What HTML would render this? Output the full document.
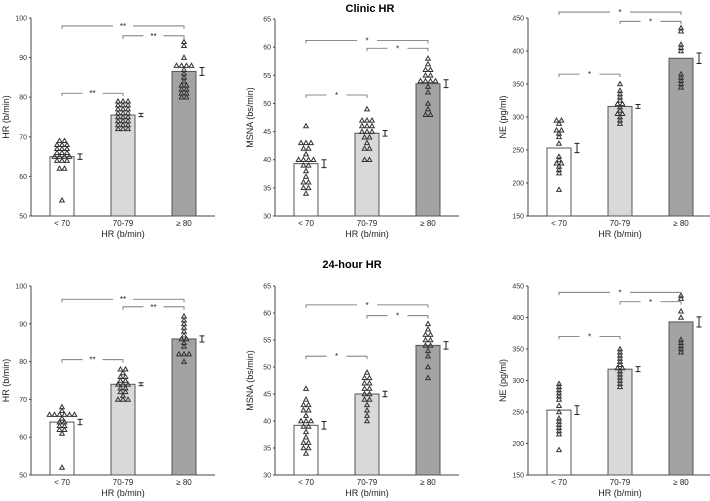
<!DOCTYPE html>
<html><head><meta charset="utf-8"><style>
body{margin:0;background:#fff;}
svg{display:block;font-family:"Liberation Sans",Arial,sans-serif;}
</style></head><body>
<svg id="fig" width="710" height="501">
<text x="370" y="12" text-anchor="middle" font-size="11" font-weight="bold">Clinic HR</text>
<text x="352" y="268" text-anchor="middle" font-size="11" font-weight="bold">24-hour HR</text>
</svg>
<script>
const categories = ["< 70","70-79","≥ 80"];
const p1Vals = [[54,62,62,64,64,64,65,65,65,65,66,66,66,67,67,67,68,68,68,69,69],[72,72,72,73,73,73,74,74,74,75,75,75,76,76,76,77,77,77,78,78,78,79,79,79],[80,80,81,81,82,82,83,83,84,85,86,87,88,88,88,88,90,93,94]];
const p1Means = [65,75.5,86.5];
const p1Sems = [0.7,0.4,1.0];
const p2Vals = [[34,35,35,36,36,37,38,39,39,40,40,40,40,41,42,42,43,43,43,46],[40,40,42,42,43,44,44,45,45,45,46,46,46,47,47,47,49],[48,48,49,50,52,53,54,54,54,54,55,55,56,56,57,58]];
const p2Means = [39.3,44.7,53.5];
const p2Sems = [0.7,0.5,0.7];
const p3Vals = [[190,215,220,225,230,230,235,240,260,270,275,280,280,290,295,295],[290,295,300,305,305,310,315,320,320,325,330,335,340,350],[345,350,355,360,365,400,405,410,430,435]];
const p3Means = [253,316,389];
const p3Sems = [7,3,8];
const p4Vals = [[52,61,62,62,63,63,64,64,65,66,66,66,66,66,66,67,68],[70,70,70,71,72,72,73,73,74,74,74,75,75,76,76,77,78,78],[80,82,82,82,84,85,86,86,87,88,89,90,91,92]];
const p4Means = [64,74,86];
const p4Sems = [0.7,0.4,0.8];
const p5Vals = [[34,35,35,36,36,37,38,39,39,40,40,40,41,42,42,43,43,44,46],[40,41,42,43,44,44,45,45,46,46,47,47,48,48,49],[48,50,52,53,54,54,55,55,56,56,57,58]];
const p5Means = [39.2,45,54];
const p5Sems = [0.7,0.5,0.7];
const p6Vals = [[190,215,220,225,230,235,240,250,260,270,275,280,285,290,295],[290,295,300,305,310,315,320,320,325,330,335,340,345,350],[345,350,355,360,365,400,410,430,435]];
const p6Means = [253,318,393];
const p6Sems = [7,4,8];
const hrTicks=[50,60,70,80,90,100], msnaTicks=[30,35,40,45,50,55,60,65], neTicks=[150,200,250,300,350,400,450];

const NS="http://www.w3.org/2000/svg";
const svg=document.getElementById('fig');
function mk(tag,attrs,parent){const e=document.createElementNS(NS,tag);for(const k in attrs)e.setAttribute(k,attrs[k]);(parent||svg).appendChild(e);return e;}

function panel(cfg){
  const g=mk('g',{});
  
  
  const y=v=>cfg.yb-(v-cfg.min)/(cfg.max-cfg.min)*(cfg.yb-cfg.yt);
  const barX=[cfg.ax+19,cfg.ax+80,cfg.ax+141], bw=24;
  const ya=mk('line',{x1:cfg.ax,x2:cfg.ax,y1:cfg.yt,y2:cfg.yb,stroke:'#444','stroke-width':1},g);
  
  const xa=mk('line',{x1:cfg.ax,x2:cfg.ax+184,y1:cfg.yb,y2:cfg.yb,stroke:'#444','stroke-width':1},g);
  
  cfg.ticks.forEach(t=>{
    mk('line',{x1:cfg.ax-2,x2:cfg.ax,y1:y(t),y2:y(t),stroke:'#444'},g);
    const tx=mk('text',{x:cfg.ax-4,y:y(t)+2.5,'text-anchor':'end','font-size':7,fill:'#333'},g);
    tx.textContent=t;
    
  });
  const yl=mk('text',{x:0,y:0,'text-anchor':'middle','font-size':9,fill:'#222',transform:`translate(${cfg.ax-22},${(cfg.yt+cfg.yb)/2}) rotate(-90)`},g);
  yl.textContent=cfg.ylabel;
  const xl=mk('text',{x:barX[1]+bw/2,y:cfg.yb+21,'text-anchor':'middle','font-size':9,fill:'#222'},g);
  xl.textContent='HR (b/min)';
  const fills=['#ffffff','#d9d9d9','#a3a3a3'];
  categories.forEach((c,i)=>{
    const b=mk('rect',{x:barX[i],y:y(cfg.means[i]),width:bw,height:cfg.yb-y(cfg.means[i]),fill:fills[i],stroke:'#555','stroke-width':1},g);
    
    const cl=mk('text',{x:barX[i]+bw/2,y:cfg.yb+10,'text-anchor':'middle','font-size':8,fill:'#222'},g);
    cl.textContent=c;
    const ex=barX[i]+bw+6, hi=y(cfg.means[i]+cfg.sems[i]), lo=y(cfg.means[i]-cfg.sems[i]);
    const eb=mk('path',{d:`M${ex},${hi}V${lo}M${ex-2.5},${hi}H${ex+2.5}M${ex-2.5},${lo}H${ex+2.5}`,stroke:'#222',fill:'none','stroke-width':1},g);
    
    const counts={};
    cfg.vals[i].forEach(v=>counts[v]=(counts[v]||0)+1);
    const seen={};
    cfg.vals[i].forEach(v=>{
      const n=counts[v], k=(seen[v]=(seen[v]||0)+1)-1;
      const cx=barX[i]+bw/2+(k-(n-1)/2)*5, cy=y(v);
      const tr=mk('path',{d:`M${cx},${cy-2.3}L${cx+2.3},${cy+1.8}L${cx-2.3},${cy+1.8}Z`,fill:'none',stroke:'#333','stroke-width':1},g);
      
    });
  });
  const br=(a,b,v,lab)=>{
    const x1=barX[a]+bw/2,x2=barX[b]+bw/2,yy=y(v),m=(x1+x2)/2;
    const p=mk('path',{d:`M${x1},${yy+3}V${yy}H${m-10}M${m+10},${yy}H${x2}V${yy+3}`,stroke:'#666',fill:'none','stroke-width':0.8},g);
    
    const t=mk('text',{x:m,y:yy+3,'text-anchor':'middle','font-size':8,fill:'#222'},g);
    t.textContent=lab;
  };
  cfg.brackets.forEach(b=>br(b[0],b[1],b[2],cfg.star));
}
const topY=[18,216], botY=[286,475];
panel({name:'clinic-hr-panel',ax:31,yt:topY[0],yb:topY[1],min:50,max:100,ticks:hrTicks,ylabel:'HR (b/min)',vals:p1Vals,means:p1Means,sems:p1Sems,brackets:[[0,1,81],[1,2,95.5],[0,2,98]],star:'**'});
panel({name:'clinic-msna-panel',ax:275,yt:19,yb:216,min:30,max:65,ticks:msnaTicks,ylabel:'MSNA (bs/min)',vals:p2Vals,means:p2Means,sems:p2Sems,brackets:[[0,1,51.5],[1,2,59.8],[0,2,61.2]],star:'*'});
panel({name:'clinic-ne-panel',ax:528,yt:18,yb:216,min:150,max:450,ticks:neTicks,ylabel:'NE (pg/ml)',vals:p3Vals,means:p3Means,sems:p3Sems,brackets:[[0,1,365],[1,2,445],[0,2,459]],star:'*'});
panel({name:'24h-hr-panel',ax:31,yt:botY[0],yb:botY[1],min:50,max:100,ticks:hrTicks,ylabel:'HR (b/min)',vals:p4Vals,means:p4Means,sems:p4Sems,brackets:[[0,1,80.5],[1,2,94.5],[0,2,96.5]],star:'**'});
panel({name:'24h-msna-panel',ax:275,yt:botY[0],yb:botY[1],min:30,max:65,ticks:msnaTicks,ylabel:'MSNA (bs/min)',vals:p5Vals,means:p5Means,sems:p5Sems,brackets:[[0,1,52],[1,2,59.5],[0,2,61.5]],star:'*'});
panel({name:'24h-ne-panel',ax:528,yt:botY[0],yb:botY[1],min:150,max:450,ticks:neTicks,ylabel:'NE (pg/ml)',vals:p6Vals,means:p6Means,sems:p6Sems,brackets:[[0,1,370],[1,2,425],[0,2,440]],star:'*'});
</script>
</body></html>
